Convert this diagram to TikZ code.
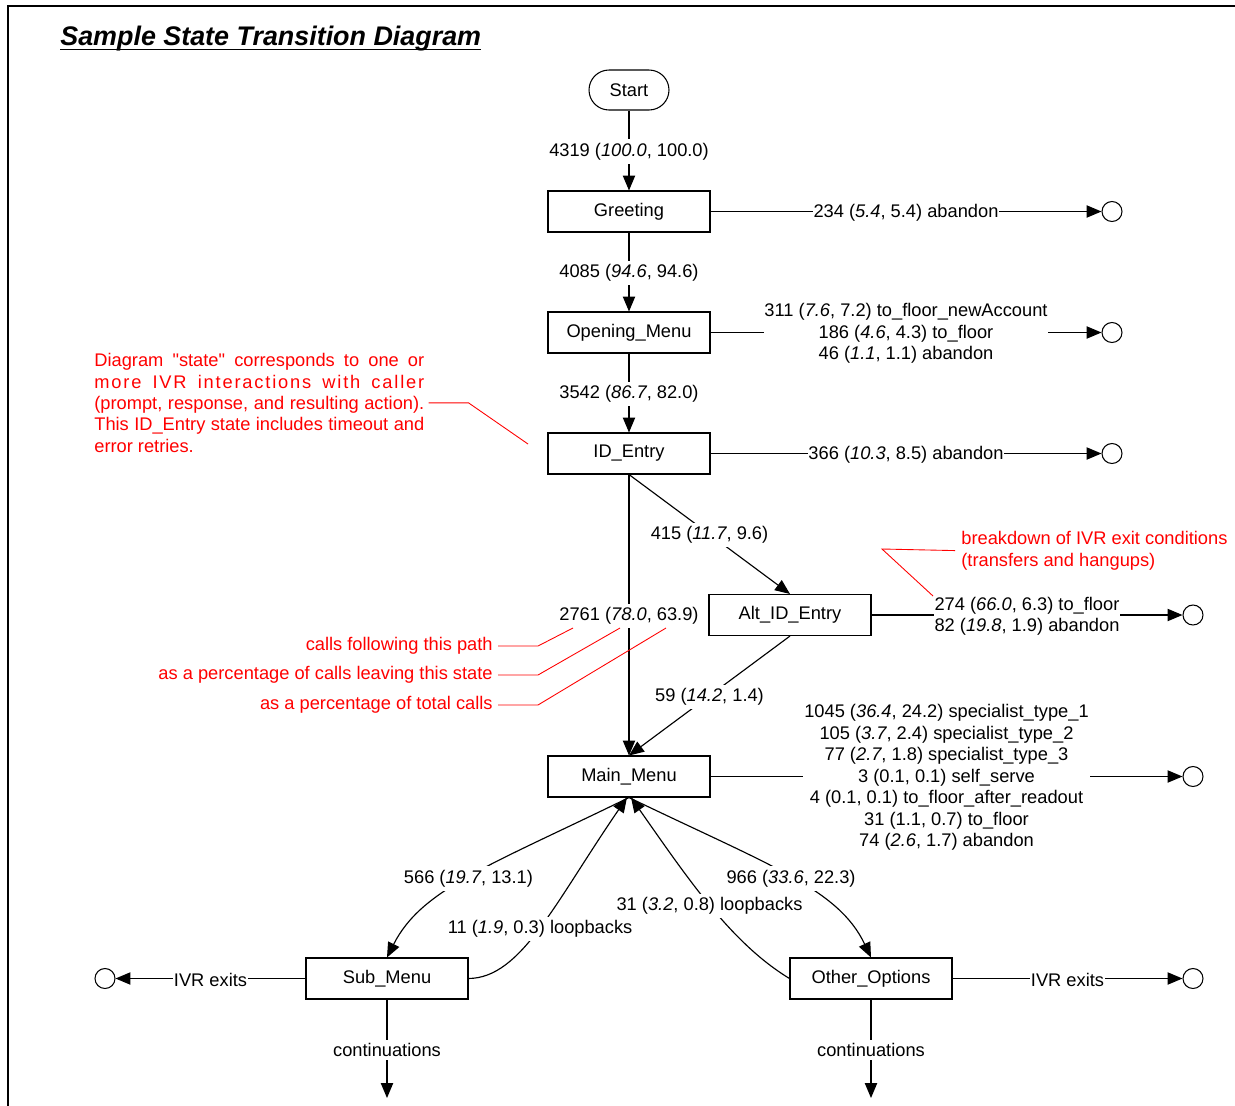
\documentclass[tikz,border=0pt]{standalone}
\usepackage{fontspec}
\setmainfont{Liberation Sans}[Ligatures=TeXOff]
\usetikzlibrary{arrows.meta}
\begin{document}
\begin{tikzpicture}[x=0.02cm,y=-0.02cm,
  every node/.style={font=\fontsize{10.4}{12.2}\selectfont},
  state/.style={draw, line width=0.6pt, minimum width=3.24cm, minimum height=0.82cm, inner sep=0pt},
  startbox/.style={draw, line width=0.6pt, rounded corners=0.4cm, minimum width=1.6cm, minimum height=0.8cm, inner sep=0pt},
  term/.style={draw, circle, line width=0.6pt, minimum size=0.4cm, inner sep=0pt},
  flow/.style={line width=0.65pt, -{Triangle[length=8.5pt,width=7pt]}},
  elabel/.style={fill=white, inner xsep=0.5pt, inner ysep=2pt, yshift=-0.02cm},
  note/.style={text=red, inner sep=0pt},
  lead/.style={red, line width=0.5pt}]

\useasboundingbox (0,0) rectangle (1235,1106);
\draw[line width=1.1pt] (8,1106) -- (8,6) -- (1235,6);

% title
\node[anchor=base west, inner sep=0pt, font=\fontsize{15.3}{18}\selectfont\bfseries\itshape] (title) at (60,45.5) {Sample State Transition Diagram};
\draw[line width=1.1pt] ([yshift=-0.08cm]title.base west) -- ([yshift=-0.08cm]title.base east);

% states
\node[startbox] (start) at (629,90) {Start};
\node[state] (greet) at (629,211.5) {Greeting};
\node[state] (open) at (629,332.5) {Opening\_Menu};
\node[state] (id) at (629,453.5) {ID\_Entry};
\node[state] (alt) at (790,615) {Alt\_ID\_Entry};
\node[state] (main) at (629,776.5) {Main\_Menu};
\node[state] (sub) at (387,978.5) {Sub\_Menu};
\node[state] (other) at (871,978.5) {Other\_Options};

% terminals
\node[term] (tg) at (1112,211.5) {};
\node[term] (to) at (1112,332.5) {};
\node[term] (ti) at (1112,453.5) {};
\node[term] (ta) at (1193,615) {};
\node[term] (tm) at (1193,776.5) {};
\node[term] (ts) at (105,978.5) {};
\node[term] (tt) at (1193,978.5) {};
\coordinate (cs) at (387,1098);
\coordinate (co) at (871,1098);

% main flow
\draw[flow] (start) -- node[elabel]{4319 (\textit{100.0}, 100.0)} (greet);
\draw[flow] (greet) -- node[elabel]{4085 (\textit{94.6}, 94.6)} (open);
\draw[flow] (open) -- node[elabel]{3542 (\textit{86.7}, 82.0)} (id);
\draw[flow] (id.south) -- node[elabel]{415 (\textit{11.7}, 9.6)} (alt.north);
\draw[flow] (id.south) -- node[elabel]{2761 (\textit{78.0}, 63.9)} (main.north);
\draw[flow] (alt.south) -- node[elabel]{59 (\textit{14.2}, 1.4)} (main.north);

% exits
\draw[flow] (greet) -- node[elabel]{234 (\textit{5.4}, 5.4) abandon} (tg);
\draw[flow] (open) -- node[elabel, align=center]{311 (\textit{7.6}, 7.2) to\_floor\_newAccount\\186 (\textit{4.6}, 4.3) to\_floor\\46 (\textit{1.1}, 1.1) abandon} (to);
\draw[flow] (id) -- node[elabel]{366 (\textit{10.3}, 8.5) abandon} (ti);
\draw[flow] (alt) -- node[elabel, align=left]{274 (\textit{66.0}, 6.3) to\_floor\\82 (\textit{19.8}, 1.9) abandon} (ta);
\draw[flow] (main) -- node[elabel, align=center]{1045 (\textit{36.4}, 24.2) specialist\_type\_1\\105 (\textit{3.7}, 2.4) specialist\_type\_2\\77 (\textit{2.7}, 1.8) specialist\_type\_3\\3 (0.1, 0.1) self\_serve\\4 (0.1, 0.1) to\_floor\_after\_readout\\31 (1.1, 0.7) to\_floor\\74 (\textit{2.6}, 1.7) abandon} (tm);

% curves around Main_Menu
\draw[flow] (main.south) .. controls (489,866) and (421.5,889) .. node[elabel]{566 (\textit{19.7}, 13.1)} (sub.north);
\draw[flow] (sub.east) .. controls (521,978) and (554,904) .. node[elabel]{11 (\textit{1.9}, 0.3) loopbacks} ([xshift=-0.04cm]main.south);
\draw[flow] (main.south) .. controls (771,866) and (838.5,889) .. node[elabel]{966 (\textit{33.6}, 22.3)} (other.north);
\draw[flow] (other.west) .. controls (731,943) and (687.5,878) .. node[elabel]{31 (\textit{3.2}, 0.8) loopbacks} ([xshift=0.04cm]main.south);

% lower exits
\draw[flow] (sub) -- node[elabel]{IVR exits} (ts);
\draw[flow] (other) -- node[elabel]{IVR exits} (tt);
\draw[flow] (sub) -- node[elabel]{continuations} (cs);
\draw[flow] (other) -- node[elabel]{continuations} (co);

% red annotations
\node[note, anchor=north west, align=left] (n1) at (94,353) {\makebox[6.6cm][s]{Diagram "state" corresponds to one or}\\
\makebox[6.6cm][s]{\addfontfeature{LetterSpace=10}more IVR interactions with caller}\\
\makebox[6.6cm][s]{(prompt, response, and resulting action).}\\
\makebox[6.6cm][s]{This ID\_Entry state includes timeout and}\\
error retries.};
\coordinate (p1) at (528,444);
\draw[lead] ([xshift=0.08cm]n1.east) -- ++(40,0) -- (p1);

\node[note, anchor=north west, align=left] (n2) at (961,531) {breakdown of IVR exit conditions\\(transfers and hangups)};
\coordinate (p2) at (933,596);
\draw[lead] ([xshift=-0.12cm]n2.west) -- (882,549) -- (p2);

\node[note, anchor=east] (n3) at (493,646) {calls following this path};
\node[note, anchor=east] (n4) at (493,675) {as a percentage of calls leaving this state};
\node[note, anchor=east] (n5) at (493,705) {as a percentage of total calls};
\coordinate (p3) at (573,628);
\coordinate (p4) at (620,628);
\coordinate (p5) at (666,628);
\draw[lead] ([xshift=0.1cm]n3.east) -- ++(40,0) -- (p3);
\draw[lead] ([xshift=0.1cm]n4.east) -- ++(40,0) -- (p4);
\draw[lead] ([xshift=0.1cm]n5.east) -- ++(40,0) -- (p5);
\end{tikzpicture}
\end{document}
